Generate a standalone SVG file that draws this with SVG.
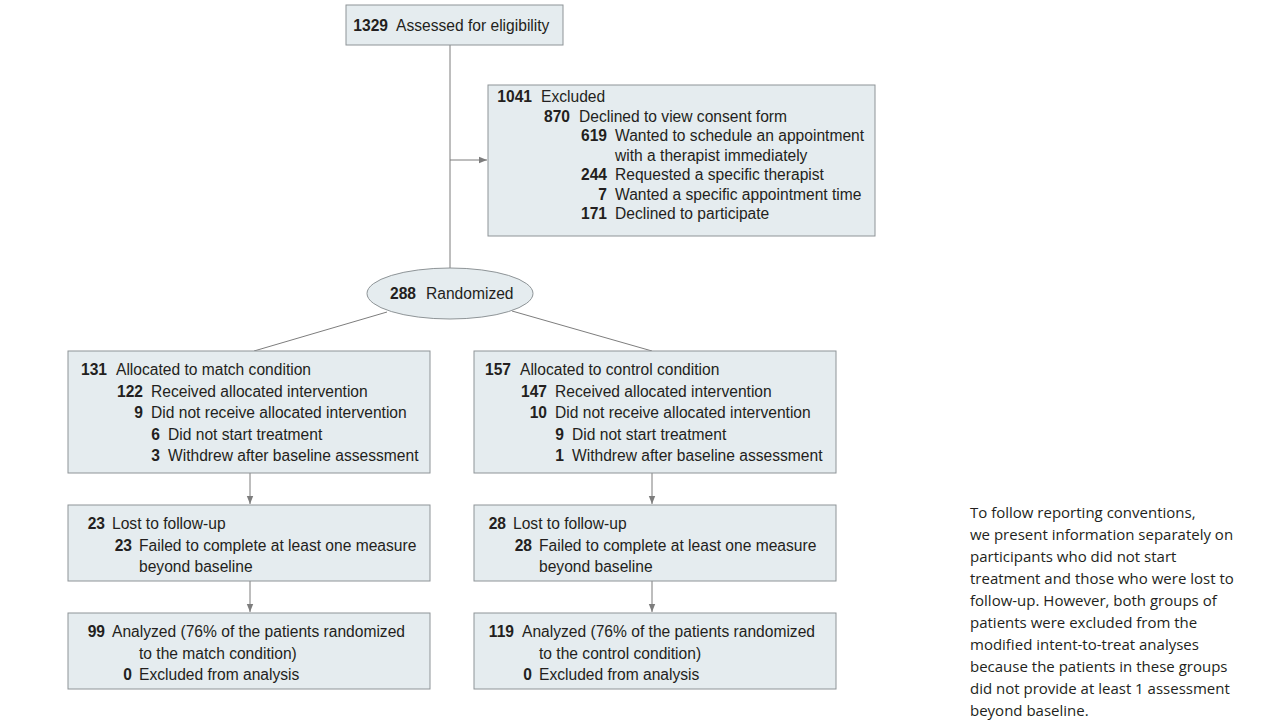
<svg xmlns="http://www.w3.org/2000/svg" width="1265" height="722" viewBox="0 0 1265 722">
<style>
  .box { fill: #e5ecef; stroke: #8e9497; stroke-width: 1; }
  .t { font-family: "Liberation Sans", Arial, sans-serif; font-size: 15.6px; fill: #231f20; }
  .n { font-weight: bold; text-anchor: end; }
  .c { fill: none; stroke: #7d7d7d; stroke-width: 1; }
  .note { font-family: "Open Sans", "Liberation Sans", sans-serif; font-size: 15px; fill: #231f20; }
</style>
<defs>
  <marker id="ah" viewBox="0 0 10 10" refX="10" refY="5" markerWidth="8" markerHeight="8" markerUnits="userSpaceOnUse" orient="auto">
    <path d="M0,1 L10,5 L0,9 Z" fill="#7d7d7d"/>
  </marker>
</defs>
<rect width="1265" height="722" fill="#ffffff"/>

<g id="connectors">
  <line class="c" x1="450" y1="45" x2="450" y2="268"/>
  <line class="c" x1="450" y1="160" x2="487" y2="160" marker-end="url(#ah)"/>
  <line class="c" x1="387" y1="312" x2="254" y2="351"/>
  <line class="c" x1="512" y1="311" x2="652" y2="351"/>
  <line class="c" x1="250" y1="473" x2="250" y2="504" marker-end="url(#ah)"/>
  <line class="c" x1="652" y1="473" x2="652" y2="504" marker-end="url(#ah)"/>
  <line class="c" x1="250" y1="581" x2="250" y2="612" marker-end="url(#ah)"/>
  <line class="c" x1="652" y1="581" x2="652" y2="612" marker-end="url(#ah)"/>
</g>

<g id="assessed">
  <rect class="box" x="346" y="5" width="217" height="40"/>
  <text class="t n" x="388" y="31">1329</text>
  <text class="t" x="396" y="31">Assessed for eligibility</text>
</g>

<g id="excluded">
  <rect class="box" x="488" y="85" width="387" height="151"/>
  <text class="t n" x="532" y="102">1041</text>
  <text class="t" x="541" y="102">Excluded</text>
  <text class="t n" x="570" y="121.5">870</text>
  <text class="t" x="579" y="121.5">Declined to view consent form</text>
  <text class="t n" x="607" y="141">619</text>
  <text class="t" x="615" y="141">Wanted to schedule an appointment</text>
  <text class="t" x="615" y="160.5">with a therapist immediately</text>
  <text class="t n" x="607" y="180">244</text>
  <text class="t" x="615" y="180">Requested a specific therapist</text>
  <text class="t n" x="607" y="199.5">7</text>
  <text class="t" x="615" y="199.5">Wanted a specific appointment time</text>
  <text class="t n" x="607" y="219">171</text>
  <text class="t" x="615" y="219">Declined to participate</text>
</g>

<g id="randomized">
  <ellipse class="box" cx="450" cy="293.5" rx="83" ry="25.5"/>
  <text class="t n" x="416" y="299">288</text>
  <text class="t" x="426" y="299">Randomized</text>
</g>

<g id="match-allocation">
  <rect class="box" x="68" y="351" width="362" height="122"/>
  <text class="t n" x="107" y="375">131</text>
  <text class="t" x="116" y="375">Allocated to match condition</text>
  <text class="t n" x="143" y="396.5">122</text>
  <text class="t" x="151" y="396.5">Received allocated intervention</text>
  <text class="t n" x="143" y="418">9</text>
  <text class="t" x="151" y="418">Did not receive allocated intervention</text>
  <text class="t n" x="160" y="439.5">6</text>
  <text class="t" x="168" y="439.5">Did not start treatment</text>
  <text class="t n" x="160" y="461">3</text>
  <text class="t" x="168" y="461">Withdrew after baseline assessment</text>
</g>

<g id="control-allocation">
  <rect class="box" x="474" y="351" width="362" height="122"/>
  <text class="t n" x="511" y="375">157</text>
  <text class="t" x="520" y="375">Allocated to control condition</text>
  <text class="t n" x="547" y="396.5">147</text>
  <text class="t" x="555" y="396.5">Received allocated intervention</text>
  <text class="t n" x="547" y="418">10</text>
  <text class="t" x="555" y="418">Did not receive allocated intervention</text>
  <text class="t n" x="564" y="439.5">9</text>
  <text class="t" x="572" y="439.5">Did not start treatment</text>
  <text class="t n" x="564" y="461">1</text>
  <text class="t" x="572" y="461">Withdrew after baseline assessment</text>
</g>

<g id="match-followup">
  <rect class="box" x="68" y="505" width="362" height="76"/>
  <text class="t n" x="105" y="529">23</text>
  <text class="t" x="112" y="529">Lost to follow-up</text>
  <text class="t n" x="132" y="550.5">23</text>
  <text class="t" x="139" y="550.5">Failed to complete at least one measure</text>
  <text class="t" x="139" y="572">beyond baseline</text>
</g>

<g id="control-followup">
  <rect class="box" x="474" y="505" width="362" height="76"/>
  <text class="t n" x="506" y="529">28</text>
  <text class="t" x="513" y="529">Lost to follow-up</text>
  <text class="t n" x="532" y="550.5">28</text>
  <text class="t" x="539" y="550.5">Failed to complete at least one measure</text>
  <text class="t" x="539" y="572">beyond baseline</text>
</g>

<g id="match-analysis">
  <rect class="box" x="68" y="613" width="362" height="76"/>
  <text class="t n" x="105" y="637">99</text>
  <text class="t" x="112" y="637">Analyzed (76% of the patients randomized</text>
  <text class="t" x="139" y="658.5">to the match condition)</text>
  <text class="t n" x="132" y="680">0</text>
  <text class="t" x="139" y="680">Excluded from analysis</text>
</g>

<g id="control-analysis">
  <rect class="box" x="474" y="613" width="362" height="76"/>
  <text class="t n" x="514" y="637">119</text>
  <text class="t" x="522" y="637">Analyzed (76% of the patients randomized</text>
  <text class="t" x="539" y="658.5">to the control condition)</text>
  <text class="t n" x="532" y="680">0</text>
  <text class="t" x="539" y="680">Excluded from analysis</text>
</g>

<g id="note">
  <text class="note" x="970" y="518">To follow reporting conventions,</text>
  <text class="note" x="970" y="540">we present information separately on</text>
  <text class="note" x="970" y="562">participants who did not start</text>
  <text class="note" x="970" y="584">treatment and those who were lost to</text>
  <text class="note" x="970" y="606">follow-up. However, both groups of</text>
  <text class="note" x="970" y="628">patients were excluded from the</text>
  <text class="note" x="970" y="650">modified intent-to-treat analyses</text>
  <text class="note" x="970" y="672">because the patients in these groups</text>
  <text class="note" x="970" y="694">did not provide at least 1 assessment</text>
  <text class="note" x="970" y="716">beyond baseline.</text>
</g>
</svg>
